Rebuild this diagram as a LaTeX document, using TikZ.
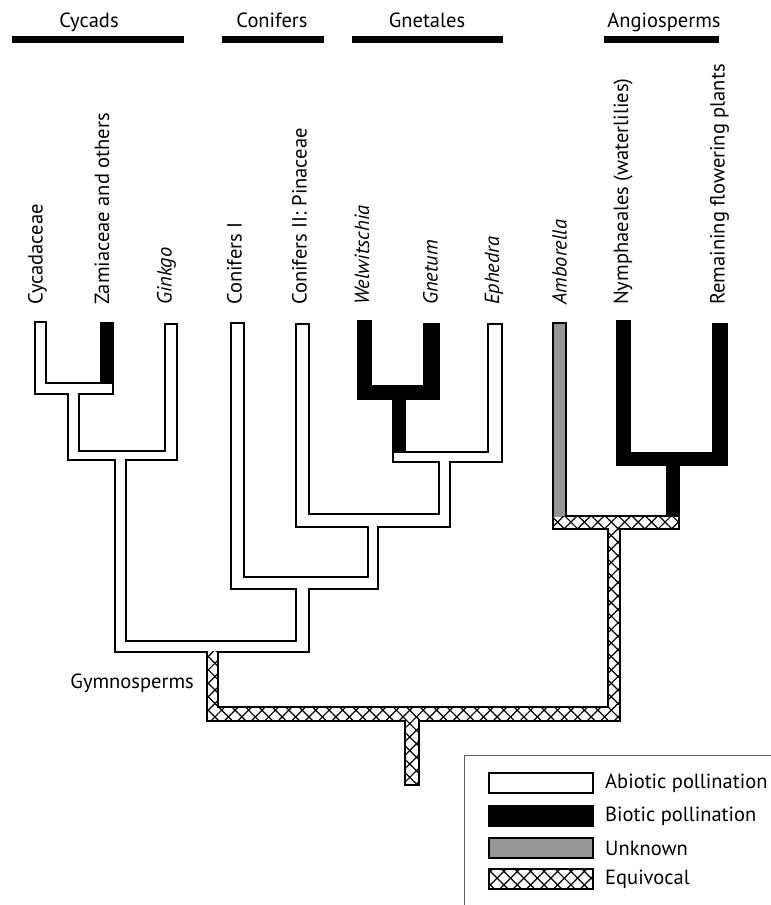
\documentclass[tikz,border=0pt]{standalone}
\usepackage{fontspec}
\setmainfont{PT Sans}
\usetikzlibrary{patterns.meta}
\definecolor{unknowngrey}{RGB}{150, 150, 150}
\definecolor{framegrey}{RGB}{95, 95, 95}
\def\brd{1.6}
\tikzset{
  taxon/.style={rotate=90, anchor=west, inner sep=0pt},
  header/.style={anchor=base, inner sep=0pt},
  keytext/.style={anchor=west, inner sep=0pt},
  hatchA/.style={pattern={Lines[angle=45, distance=9.5pt, line width=1.2pt]}, pattern color=black},
  hatchB/.style={pattern={Lines[angle=-45, distance=9.5pt, line width=1.2pt]}, pattern color=black},
  swatch/.style={draw=black, line width=1.8pt},
}

\begin{document}
\begin{tikzpicture}[x=1pt, y=-1pt, font=\fontsize{20.5}{24}\selectfont]
  \useasboundingbox (0,0) rectangle (771,905);

  % Group bars
  \fill (12,36) rectangle (184,43);
  \fill (222,36) rectangle (324,43);
  \fill (352,36) rectangle (503,43);
  \fill (604,36) rectangle (719,43);
  \node[header] (cycads) at (89,27) {Cycads};
  \node[header] (conifers) at (272,27) {Conifers};
  \node[header] (gnetales) at (427,27) {Gnetales};
  \node[header] (angio) at (664,27) {Angiosperms};

  % Taxa
  \node[taxon] (cycadaceae) at (37.5,305) {Cycadaceae};
  \node[taxon] (zamiaceae) at (102,305) {Zamiaceae and others};
  \node[taxon] (ginkgo) at (166.5,305) {\itshape Ginkgo};
  \node[taxon] (conI) at (234.5,305) {Conifers I};
  \node[taxon] (conII) at (299.5,305) {Conifers II: Pinaceae};
  \node[taxon] (welw) at (362,305) {\itshape Welwitschia};
  \node[taxon] (gnetum) at (430.5,305) {\itshape Gnetum};
  \node[taxon] (ephedra) at (494,305) {\itshape Ephedra};
  \node[taxon] (amborella) at (559.5,305) {\itshape Amborella};
  \node[taxon] (nymph) at (623,305) {Nymphaeales (waterlilies)};
  \node[taxon] (remaining) at (719.5,305) {Remaining flowering plants};

  % Branch outlines
  \foreach \xa/\ya/\xb/\yb in {34/321/47/395, 34/382/114/395, 67/382/80/461,
      164/323/178/461, 67/450/178/461, 114/450/127/653, 230/322/245/590,
      295/323/310/528, 487/323/503/463, 392/451/503/463, 438/451/451/528,
      295/513/451/528, 367/513/379/590, 230/576/379/590, 295/576/310/653,
      114/640/310/653,
      100/322/114/395, 357/320/372/400, 423/323/440/400, 357/385/440/400,
      392/385/406/463, 616/320/631/466, 712/323/728/466, 616/452/728/466,
      666/452/680/530,
      552/322/567/530,
      552/515/680/530, 607/515/621/722, 206/706/621/722, 206/640/219/722,
      404/706/420/786}
    \fill (\xa,\ya) rectangle (\xb,\yb);

  % Unknown
  \fill[unknowngrey] ({552+\brd},{322+\brd}) rectangle ({567-\brd},{530-\brd});

  % Equivocal
  \foreach \xa/\ya/\xb/\yb in {552/515/680/530, 607/515/621/722, 206/706/621/722,
      206/640/219/722, 404/706/420/786} {
    \fill[white] ({\xa+\brd},{\ya+\brd}) rectangle ({\xb-\brd},{\yb-\brd});
    \fill[hatchA] ({\xa+\brd},{\ya+\brd}) rectangle ({\xb-\brd},{\yb-\brd});
    \fill[hatchB] ({\xa+\brd},{\ya+\brd}) rectangle ({\xb-\brd},{\yb-\brd});
  }

  % Abiotic
  \foreach \xa/\ya/\xb/\yb in {34/321/47/395, 34/382/114/395, 67/382/80/461,
      164/323/178/461, 67/450/178/461, 114/450/127/653, 230/322/245/590,
      295/323/310/528, 487/323/503/463, 392/451/503/463, 438/451/451/528,
      295/513/451/528, 367/513/379/590, 230/576/379/590, 295/576/310/653,
      114/640/310/653}
    \fill[white] ({\xa+\brd},{\ya+\brd}) rectangle ({\xb-\brd},{\yb-\brd});

  \node[anchor=east, inner sep=0pt] (gymno) at (194,683) {Gymnosperms};

  % Legend
  \draw[framegrey, line width=1pt] (464,905) -- (464,755) -- (771,755);
  \filldraw[swatch, fill=white] (489,773) rectangle (593,793);
  \node[keytext] (abiotic) at (605,783) {Abiotic pollination};
  \filldraw[swatch, fill=black] (489,806) rectangle (593,826);
  \node[keytext] (biotic) at (605,816) {Biotic pollination};
  \filldraw[swatch, fill=unknowngrey] (489,838) rectangle (593,858);
  \node[keytext] (unknown) at (605,848) {Unknown};
  \fill[white] (489,869) rectangle (593,889);
  \fill[hatchA] (489,869) rectangle (593,889);
  \fill[hatchB] (489,869) rectangle (593,889);
  \draw[swatch] (489,869) rectangle (593,889);
  \node[keytext] (equivocal) at (605,879) {Equivocal};
\end{tikzpicture}
\end{document}
